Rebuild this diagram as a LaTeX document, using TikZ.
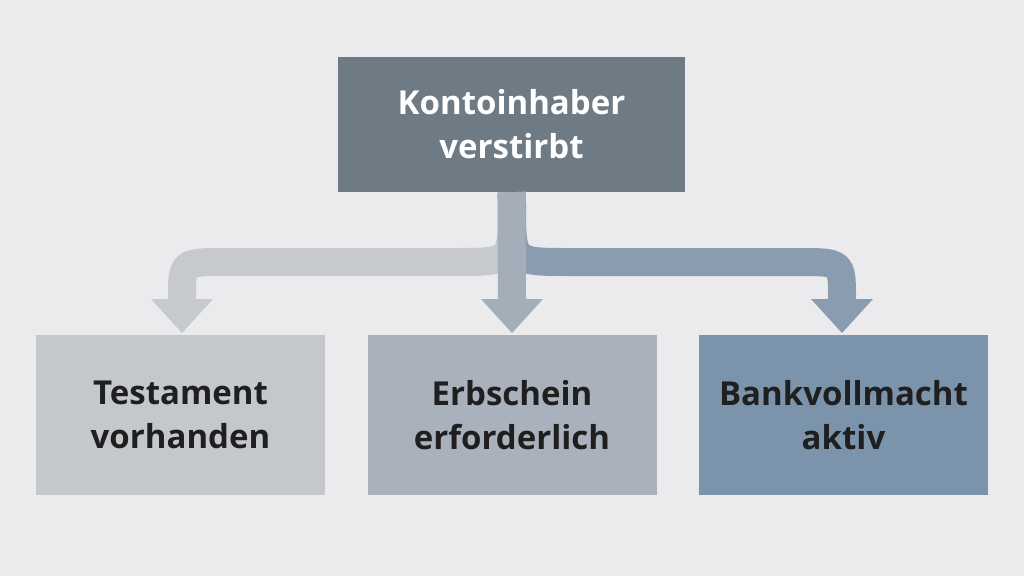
\documentclass[tikz,border=0pt]{standalone}
\usepackage{fontspec}
\setmainfont{Open Sans}
\definecolor{bgc}{HTML}{EBEBED}
\definecolor{topc}{HTML}{6E7A84}
\definecolor{lc}{HTML}{C4C7CB}
\definecolor{mc}{HTML}{A9B2BC}
\definecolor{rc}{HTML}{7B93AB}
\definecolor{al}{HTML}{C6CACF}
\definecolor{am}{HTML}{A4AEB9}
\definecolor{ar}{HTML}{8A9DB0}
\begin{document}
\begin{tikzpicture}[x=1pt,y=-1pt,
  box/.style={minimum width=289pt,minimum height=160pt,inner sep=0pt,align=center,font=\fontsize{33}{44}\selectfont\bfseries,text=black!88},
  band/.style={line width=28pt}]
\fill[bgc] (0,0) rectangle (1024,576);
\useasboundingbox (0,0) rectangle (1024,576);
\node[box,fill=topc,text=white,minimum width=347pt,minimum height=135pt] (top) at (511.5,124.5) {Kontoinhaber\\verstirbt};
\node[box,fill=lc] (l) at (180.5,415) {Testament\\vorhanden};
\node[box,fill=mc] (m) at (512,415) {Erbschein\\erforderlich};
\node[box,fill=rc] (r) at (843.5,415) {Bankvollmacht\\aktiv};
\coordinate (s) at (top.south);
\coordinate (lh) at (182,299);
\coordinate (mh) at (512,299);
\coordinate (rh) at (842,299);
\draw[band,al] (s) -- (512,205) .. controls (512,262) .. (455,262) -- (225,262) .. controls (182,262) .. (lh);
\draw[band,ar] (s) -- (512,205) .. controls (512,262) .. (569,262) -- (799,262) .. controls (842,262) .. (rh);
\draw[band,am] (s) -- (mh);
\fill[al] (lh) ++(-31,0) -- ++(62,0) -- (182,333) -- cycle;
\fill[am] (mh) ++(-31,0) -- ++(62,0) -- (512,333) -- cycle;
\fill[ar] (rh) ++(-31,0) -- ++(62,0) -- (842,333) -- cycle;
\end{tikzpicture}
\end{document}
